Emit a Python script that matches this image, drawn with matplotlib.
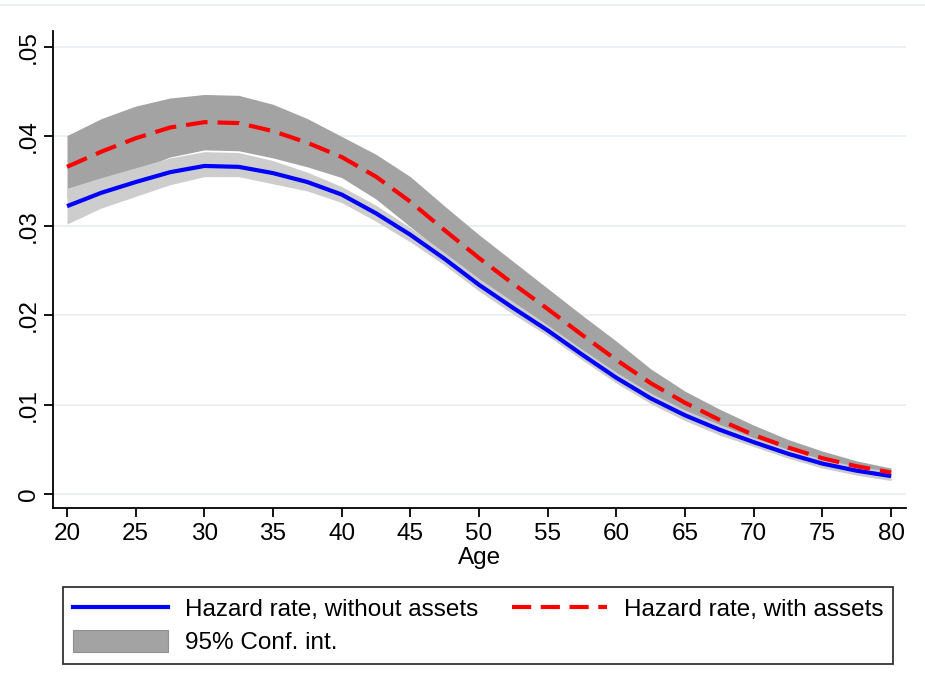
import matplotlib
matplotlib.use("Agg")
import matplotlib.pyplot as plt
from matplotlib.lines import Line2D
from matplotlib.patches import Patch

plt.rcParams['font.family'] = ['Liberation Sans', 'DejaVu Sans']

age = [20, 22.5, 25, 27.5, 30, 32.5, 35, 37.5, 40, 42.5, 45, 47.5, 50,
       52.5, 55, 57.5, 60, 62.5, 65, 67.5, 70, 72.5, 75, 77.5, 80]

haz_without = [0.0322, 0.0337, 0.0349, 0.0360, 0.0367, 0.0366, 0.0359, 0.0349,
               0.0335, 0.0314, 0.0290, 0.0263, 0.0234, 0.0208, 0.0183, 0.0156,
               0.0130, 0.0107, 0.0088, 0.0072, 0.0058, 0.0045, 0.0034, 0.0026,
               0.0020]
ci_without_lo = [0.0302, 0.0320, 0.0333, 0.0346, 0.0355, 0.0355, 0.0347, 0.0339,
                 0.0326, 0.0305, 0.0282, 0.0256, 0.0227, 0.0201, 0.0177, 0.0150,
                 0.0124, 0.0101, 0.0082, 0.0066, 0.0053, 0.0040, 0.0029, 0.0021,
                 0.0015]
ci_without_hi = [0.0342, 0.0354, 0.0365, 0.0376, 0.0383, 0.0382, 0.0373, 0.0360,
                 0.0344, 0.0323, 0.0298, 0.0270, 0.0241, 0.0215, 0.0189, 0.0162,
                 0.0136, 0.0113, 0.0094, 0.0078, 0.0063, 0.0050, 0.0039, 0.0031,
                 0.0025]

haz_with = [0.0366, 0.0383, 0.0398, 0.0410, 0.0416, 0.0415, 0.0406, 0.0393,
            0.0377, 0.0355, 0.0327, 0.0295, 0.0264, 0.0235, 0.0207, 0.0178,
            0.0150, 0.0124, 0.0102, 0.0083, 0.0066, 0.0052, 0.0040, 0.0031,
            0.0024]
ci_with_lo = [0.0331, 0.0346, 0.0362, 0.0377, 0.0385, 0.0384, 0.0376, 0.0366,
              0.0354, 0.0330, 0.0299, 0.0268, 0.0238, 0.0210, 0.0184, 0.0156,
              0.0129, 0.0108, 0.0089, 0.0071, 0.0055, 0.0043, 0.0032, 0.0025,
              0.0019]
ci_with_hi = [0.0401, 0.0420, 0.0434, 0.0443, 0.0447, 0.0446, 0.0436, 0.0420,
              0.0400, 0.0380, 0.0355, 0.0322, 0.0290, 0.0260, 0.0230, 0.0200,
              0.0171, 0.0140, 0.0115, 0.0095, 0.0077, 0.0061, 0.0048, 0.0037,
              0.0029]

xticks = [20, 25, 30, 35, 40, 45, 50, 55, 60, 65, 70, 75, 80]
yticks = [0, 0.01, 0.02, 0.03, 0.04, 0.05]
ytick_labels = ['0', '.01', '.02', '.03', '.04', '.05']
labels = ['Hazard rate, without assets', 'Hazard rate, with assets', '95% Conf. int.']

DARK = '#a3a3a3'
LIGHT = '#cdcdcd'
FS = 17.5

fig = plt.figure(figsize=(9.25, 6.91), dpi=100)
W, H = 925, 691
ax = fig.add_axes([53 / W, 1 - 508 / H, (906 - 53) / W, (508 - 31) / H])

# screenshot separator line at top
fig.add_artist(Line2D([0, 1], [1 - 5 / H, 1 - 5 / H], color='#e9eef1', lw=1.5,
                      transform=fig.transFigure))

for y in yticks:
    ax.axhline(y, color='#e6eff2', lw=1.2, zorder=0)

ax.fill_between(age, ci_with_lo, ci_with_hi, color=DARK, lw=0, zorder=1)
ax.fill_between(age, ci_without_lo, ci_without_hi, color=LIGHT, lw=0, zorder=2)
l1, = ax.plot(age, haz_without, color='#0000ff', lw=3.0, zorder=3,
              solid_capstyle='butt')
l2, = ax.plot(age, haz_with, color='#ff0000', lw=3.0, zorder=4,
              dashes=(5.2, 2.4))

ax.set_xlim(18.98, 81.09)
ax.set_ylim(-0.00157, 0.0518)

ax.spines['top'].set_visible(False)
ax.spines['right'].set_visible(False)
for s in ('left', 'bottom'):
    ax.spines[s].set_linewidth(1.3)
    ax.spines[s].set_color('black')

ax.set_xticks(xticks)
ax.set_xticklabels([str(x) for x in xticks], fontsize=FS)
ax.set_yticks(yticks)
ax.set_yticklabels(ytick_labels, fontsize=FS, rotation=90, va='center')
ax.tick_params(axis='both', direction='out', length=6.5, width=1.3, color='black')
ax.tick_params(axis='x', pad=4.0)
ax.tick_params(axis='y', pad=3)
ax.set_xlabel('Age', fontsize=FS, labelpad=2)

h_blue = Line2D([], [], color='#0000ff', lw=3.0)
h_red = Line2D([], [], color='#ff0000', lw=3.0, dashes=(4.6, 2.3))
h_ci = Patch(facecolor=DARK, edgecolor='#909090', lw=0.8)

leg = fig.legend([h_blue, h_ci, h_red], [labels[0], labels[2], labels[1]],
                 ncol=2, loc='upper left', mode='expand',
                 bbox_to_anchor=(63 / W, 1 - 663 / H, (893 - 63) / W, (663 - 587) / H),
                 borderaxespad=0, fontsize=FS, frameon=True, fancybox=False,
                 handlelength=3.9, handleheight=1.05, handletextpad=0.7,
                 labelspacing=0.35, borderpad=0.4, columnspacing=1.2)
frame = leg.get_frame()
frame.set_edgecolor('black')
frame.set_linewidth(1.3)

fig.savefig('out.png', dpi=100, facecolor='white')
